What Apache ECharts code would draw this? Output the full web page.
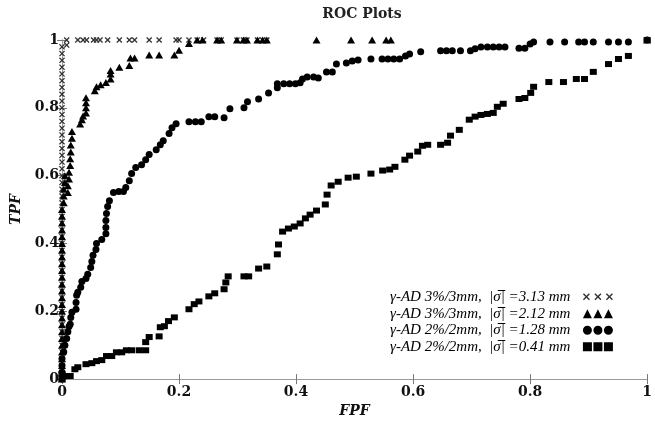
<!DOCTYPE html>
<html>
<head>
<meta charset="utf-8">
<script src="https://cdn.jsdelivr.net/npm/echarts@6/dist/echarts.min.js"></script>
<style>
  html, body { margin: 0; padding: 0; background: #fff; }
  #chart { width: 655px; height: 423px; }
</style>
</head>
<body>
<div id="chart"></div>
<script>
  // ROC points [FPF, TPF]
  let crossPts = [
    [0, 0], [0, 0.02], [0, 0.04], [0, 0.06], [0, 0.08], [0, 0.1], [0, 0.12], [0, 0.14], [0, 0.16], [0, 0.18],
    [0, 0.2], [0, 0.22], [0, 0.24], [0, 0.26], [0, 0.28], [0, 0.3], [0, 0.32], [0, 0.34], [0, 0.36], [0, 0.38],
    [0, 0.4], [0, 0.42], [0, 0.44], [0, 0.46], [0, 0.48], [0, 0.5], [0, 0.52], [0, 0.54], [0, 0.56], [0, 0.58],
    [0, 0.6], [0, 0.62], [0, 0.64], [0, 0.66], [0, 0.68], [0, 0.7], [0, 0.72], [0, 0.74], [0, 0.76], [0, 0.78],
    [0, 0.8], [0, 0.82], [0, 0.84], [0, 0.86], [0, 0.88], [0, 0.9], [0, 0.92], [0, 0.94], [0, 0.96], [0, 0.98],
    [0.008, 0.985], [0.008, 1], [0.027, 1], [0.036, 1], [0.042, 1], [0.054, 1], [0.059, 1], [0.065, 1], [0.078, 1],
    [0.098, 1], [0.115, 1], [0.124, 1], [0.149, 1], [0.166, 1], [0.195, 1], [0.2, 1], [0.217, 1], [0.231, 1],
    [0.242, 1], [0.265, 1], [0.272, 1], [0.299, 1], [0.31, 1], [0.316, 1], [0.334, 1], [0.343, 1], [0.35, 1], [1, 1]
  ];
  let trianglePts = [
    [0, 0], [0, 0.02], [0, 0.04], [0, 0.06], [0, 0.08], [0, 0.1], [0, 0.12], [0, 0.14], [0, 0.16], [0, 0.18],
    [0, 0.2], [0, 0.22], [0, 0.24], [0, 0.26], [0, 0.28], [0, 0.3], [0, 0.32], [0, 0.34], [0, 0.36], [0, 0.38],
    [0, 0.4], [0, 0.42], [0, 0.44], [0, 0.46], [0, 0.48], [0, 0.5], [0.003, 0.52], [0.003, 0.54], [0.003, 0.56],
    [0.005, 0.58], [0.005, 0.6], [0.01, 0.55], [0.01, 0.57], [0.012, 0.59], [0.012, 0.61], [0.014, 0.63],
    [0.014, 0.65], [0.015, 0.67], [0.015, 0.69], [0.017, 0.71], [0.017, 0.73], [0.031, 0.752], [0.034, 0.765],
    [0.036, 0.776], [0.041, 0.785], [0.041, 0.8], [0.041, 0.815], [0.041, 0.83], [0.056, 0.85], [0.059, 0.862],
    [0.066, 0.868], [0.075, 0.875], [0.083, 0.885], [0.083, 0.9], [0.083, 0.91], [0.098, 0.92], [0.115, 0.925],
    [0.117, 0.947], [0.124, 0.947], [0.149, 0.956], [0.166, 0.956], [0.192, 0.956], [0.2, 0.97], [0.217, 0.99],
    [0.231, 1], [0.24, 1], [0.265, 1], [0.272, 1], [0.299, 1], [0.31, 1], [0.316, 1], [0.334, 1], [0.343, 1],
    [0.35, 1], [0.435, 1], [0.494, 1], [0.53, 1], [0.554, 1], [0.562, 1], [1, 1]
  ];
  let circlePts = [
    [0, 0], [0, 0.02], [0, 0.04], [0, 0.06], [0.003, 0.08], [0.005, 0.1], [0.008, 0.12], [0.01, 0.14], [0.012, 0.155],
    [0.014, 0.162], [0.015, 0.182], [0.017, 0.197], [0.024, 0.206], [0.024, 0.226], [0.025, 0.247], [0.027, 0.256],
    [0.032, 0.271], [0.034, 0.288], [0.041, 0.297], [0.044, 0.309], [0.049, 0.329], [0.051, 0.347], [0.053, 0.365],
    [0.058, 0.382], [0.059, 0.4], [0.068, 0.412], [0.075, 0.429], [0.075, 0.447], [0.075, 0.468], [0.076, 0.488],
    [0.078, 0.509], [0.081, 0.526], [0.088, 0.55], [0.097, 0.553], [0.105, 0.553], [0.109, 0.565], [0.115, 0.585],
    [0.119, 0.606], [0.126, 0.624], [0.136, 0.632], [0.143, 0.647], [0.149, 0.662], [0.161, 0.676], [0.168, 0.691],
    [0.173, 0.703], [0.183, 0.724], [0.188, 0.741], [0.195, 0.753], [0.217, 0.759], [0.228, 0.759], [0.238, 0.759],
    [0.251, 0.774], [0.261, 0.774], [0.277, 0.771], [0.287, 0.797], [0.311, 0.8], [0.317, 0.818], [0.336, 0.826],
    [0.353, 0.844], [0.368, 0.859], [0.368, 0.871], [0.379, 0.871], [0.389, 0.871], [0.399, 0.871], [0.407, 0.874],
    [0.411, 0.885], [0.419, 0.891], [0.43, 0.891], [0.438, 0.888], [0.452, 0.906], [0.462, 0.906], [0.469, 0.929],
    [0.486, 0.932], [0.496, 0.938], [0.506, 0.941], [0.528, 0.944], [0.547, 0.944], [0.557, 0.944], [0.567, 0.944],
    [0.577, 0.944], [0.587, 0.953], [0.594, 0.959], [0.613, 0.965], [0.647, 0.968], [0.657, 0.968], [0.667, 0.968],
    [0.681, 0.968], [0.698, 0.968], [0.706, 0.974], [0.716, 0.979], [0.727, 0.979], [0.737, 0.979], [0.747, 0.979],
    [0.757, 0.979], [0.781, 0.976], [0.791, 0.976], [0.8, 0.988], [0.806, 0.994], [0.834, 0.994], [0.859, 0.994],
    [0.883, 0.994], [0.893, 0.994], [0.908, 0.994], [0.934, 0.994], [0.951, 0.994], [0.968, 0.994], [1, 1]
  ];
  let squarePts = [
    [0, 0], [0, 0.015], [0.005, 0.009], [0.014, 0.009], [0.022, 0.029], [0.027, 0.035], [0.041, 0.044], [0.051, 0.047],
    [0.059, 0.053], [0.068, 0.056], [0.076, 0.068], [0.085, 0.068], [0.093, 0.079], [0.102, 0.079], [0.11, 0.085],
    [0.119, 0.085], [0.132, 0.085], [0.143, 0.085], [0.143, 0.109], [0.149, 0.124], [0.166, 0.126], [0.168, 0.153],
    [0.175, 0.156], [0.182, 0.171], [0.192, 0.182], [0.217, 0.206], [0.226, 0.221], [0.234, 0.229], [0.251, 0.244],
    [0.261, 0.253], [0.277, 0.265], [0.28, 0.285], [0.284, 0.303], [0.311, 0.303], [0.319, 0.303], [0.336, 0.326],
    [0.35, 0.332], [0.368, 0.368], [0.37, 0.397], [0.377, 0.435], [0.387, 0.444], [0.397, 0.45], [0.407, 0.459],
    [0.416, 0.474], [0.424, 0.485], [0.435, 0.497], [0.45, 0.515], [0.453, 0.544], [0.46, 0.571], [0.472, 0.582],
    [0.489, 0.594], [0.503, 0.597], [0.528, 0.606], [0.548, 0.615], [0.56, 0.618], [0.569, 0.626], [0.586, 0.647],
    [0.594, 0.659], [0.608, 0.671], [0.616, 0.688], [0.625, 0.691], [0.647, 0.691], [0.659, 0.697], [0.664, 0.718],
    [0.679, 0.735], [0.696, 0.765], [0.706, 0.774], [0.716, 0.779], [0.727, 0.782], [0.737, 0.785], [0.744, 0.803],
    [0.754, 0.812], [0.781, 0.826], [0.791, 0.829], [0.801, 0.844], [0.806, 0.862], [0.832, 0.876], [0.857, 0.876],
    [0.879, 0.885], [0.893, 0.885], [0.908, 0.906], [0.934, 0.929], [0.951, 0.944], [0.968, 0.953], [1, 1]
  ];
  let seriesNames = [
    'γ-AD 3%/3mm,  |σ̅| =3.13 mm',
    'γ-AD 3%/3mm,  |σ̅| =2.12 mm',
    'γ-AD 2%/2mm,  |σ̅| =1.28 mm',
    'γ-AD 2%/2mm,  |σ̅| =0.41 mm'
  ];

  let crossPath = 'path://M0,1.5L1.5,0L5,3.5L8.5,0L10,1.5L6.5,5L10,8.5L8.5,10L5,6.5L1.5,10L0,8.5L3.5,5Z';
  // legend icons: three marks in a 30x9 box
  let crossIcon = 'path://M0,1.5L1,0.5L3.5,3L6,0.5L7,1.5L4.5,4L7,6.5L6,7.5L3.5,5L1,7.5L0,6.5L2.5,4Z'
    + 'M11.5,1.5L12.5,0.5L15,3L17.5,0.5L18.5,1.5L16,4L18.5,6.5L17.5,7.5L15,5L12.5,7.5L11.5,6.5L14,4Z'
    + 'M23,1.5L24,0.5L26.5,3L29,0.5L30,1.5L27.5,4L30,6.5L29,7.5L26.5,5L24,7.5L23,6.5L25.5,4Z'
    + 'M0,0.01L0.01,0ZM30,9L29.99,9Z';
  let triIcon = 'path://M0,9L4.5,0L9,9ZM10.5,9L15,0L19.5,9ZM21,9L25.5,0L30,9Z';
  let circIcon = 'path://M0,4.5a4.5,4.5 0 1,0 9,0a4.5,4.5 0 1,0 -9,0Z'
    + 'M10.5,4.5a4.5,4.5 0 1,0 9,0a4.5,4.5 0 1,0 -9,0Z'
    + 'M21,4.5a4.5,4.5 0 1,0 9,0a4.5,4.5 0 1,0 -9,0Z';
  let sqIcon = 'path://M0,0h9v9h-9ZM10.5,0h9v9h-9ZM21,0h9v9h-9Z';

  let serifFont = 'DejaVu Serif';
  let axisGray = '#9a9a9a';

  let chart = echarts.init(document.getElementById('chart'));
  chart.setOption({
    backgroundColor: '#fff',
    animation: false,
    title: {
      text: 'ROC Plots',
      left: 357,
      textAlign: 'center',
      top: 2,
      textStyle: {
        fontFamily: serifFont,
        fontWeight: 'bold',
        fontSize: 14,
        color: '#222'
      }
    },
    legend: {
      orient: 'vertical',
      left: 390,
      top: 289,
      padding: 0,
      itemGap: 0,
      align: 'right',
      itemWidth: 30,
      itemHeight: 9,
      formatter: function (name) {
        return name + '  ';
      },
      textStyle: {
        fontFamily: 'Liberation Serif',
        fontStyle: 'italic',
        fontSize: 15,
        lineHeight: 16.5,
        color: '#000'
      },
      data: [
        { name: seriesNames[0], icon: crossIcon },
        { name: seriesNames[1], icon: triIcon },
        { name: seriesNames[2], icon: circIcon },
        { name: seriesNames[3], icon: sqIcon }
      ]
    },
    grid: {
      left: 62,
      right: 4,
      top: 40,
      bottom: 43
    },
    xAxis: [{
      type: 'value',
      min: 0,
      max: 1,
      interval: 0.2,
      name: 'FPF',
      nameLocation: 'middle',
      nameGap: 17,
      nameTextStyle: {
        fontFamily: serifFont,
        fontStyle: 'italic',
        fontWeight: 'bold',
        fontSize: 14,
        color: '#111'
      },
      axisLine: { lineStyle: { color: axisGray } },
      axisTick: { inside: true, length: 5, lineStyle: { color: '#777' } },
      axisLabel: {
        margin: 6,
        fontFamily: serifFont,
        fontWeight: 'bold',
        fontSize: 14,
        color: '#111'
      },
      splitLine: { show: false }
    }, {
      type: 'value',
      position: 'top',
      min: 0,
      max: 1,
      interval: 0.2,
      axisLine: { lineStyle: { color: axisGray } },
      axisTick: { inside: true, length: 5, lineStyle: { color: '#777' } },
      axisLabel: { show: false },
      splitLine: { show: false }
    }],
    yAxis: [{
      type: 'value',
      min: 0,
      max: 1,
      interval: 0.2,
      name: 'TPF',
      nameLocation: 'middle',
      nameGap: 37,
      nameTextStyle: {
        fontFamily: serifFont,
        fontStyle: 'italic',
        fontWeight: 'bold',
        fontSize: 14,
        color: '#111'
      },
      axisLine: { show: true, lineStyle: { color: axisGray } },
      axisTick: { show: true, inside: true, length: 5, lineStyle: { color: '#777' } },
      axisLabel: {
        margin: 3,
        fontFamily: serifFont,
        fontWeight: 'bold',
        fontSize: 14,
        color: '#111'
      },
      splitLine: { show: false }
    }, {
      type: 'value',
      position: 'right',
      min: 0,
      max: 1,
      interval: 0.2,
      axisLine: { show: true, lineStyle: { color: axisGray } },
      axisTick: { show: true, inside: true, length: 5, lineStyle: { color: '#777' } },
      axisLabel: { show: false },
      splitLine: { show: false }
    }],
    series: [
      {
        name: seriesNames[0],
        type: 'scatter',
        symbol: crossPath,
        symbolSize: 6,
        itemStyle: { color: '#333', opacity: 1 },
        data: crossPts
      },
      {
        name: seriesNames[1],
        type: 'scatter',
        symbol: 'triangle',
        symbolSize: [8, 7],
        itemStyle: { color: '#000', opacity: 1 },
        data: trianglePts
      },
      {
        name: seriesNames[2],
        type: 'scatter',
        symbol: 'circle',
        symbolSize: 7,
        itemStyle: { color: '#000', opacity: 1 },
        data: circlePts
      },
      {
        name: seriesNames[3],
        type: 'scatter',
        symbol: 'rect',
        symbolSize: [7, 6],
        itemStyle: { color: '#000', opacity: 1 },
        data: squarePts
      }
    ]
  });
</script>
</body>
</html>
